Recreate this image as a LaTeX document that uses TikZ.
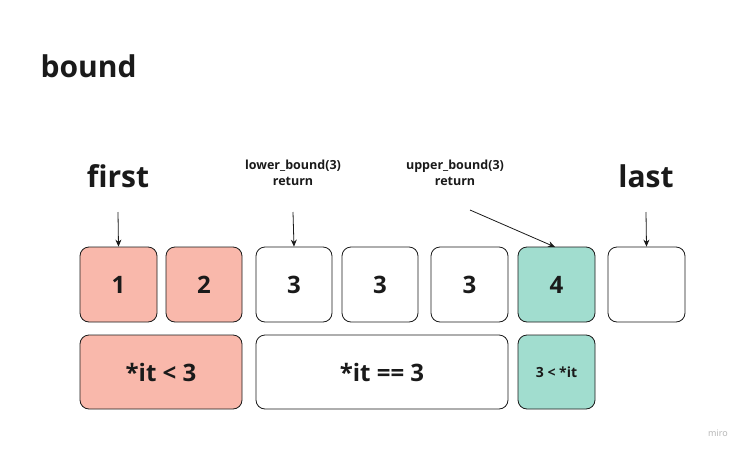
\documentclass[tikz,border=0pt]{standalone}
\usepackage{fontspec}
\setmainfont{Open Sans}
\usetikzlibrary{arrows.meta}
\definecolor{pinkc}{HTML}{F9B8AB}
\definecolor{tealc}{HTML}{A1DDCF}
\definecolor{ink}{HTML}{1A1A1A}
\begin{document}
\begin{tikzpicture}[x=1pt,y=-1pt,
  cell/.style={draw=ink,line width=0.8pt,rounded corners=9pt,minimum height=75pt,inner sep=0pt,font=\bfseries\fontsize{24}{28}\selectfont,text=ink},
  big/.style={font=\bfseries\fontsize{30}{34}\selectfont,text=ink},
  small/.style={font=\bfseries\fontsize{12.5}{16}\selectfont,text=ink,align=center},
  arr/.style={-{Stealth[length=7pt,width=6pt]},line width=0.8pt,draw=ink}]
\useasboundingbox (0,0) rectangle (750,453);
\fill[white] (0,0) rectangle (750,453);
\node[big,anchor=west] (title) at (37,66) {bound};
\node[cell,fill=pinkc,minimum width=77pt] (c1) at (118.5,284.5) {1};
\node[cell,fill=pinkc,minimum width=76pt] (c2) at (204,284.5) {2};
\node[cell,fill=white,minimum width=76pt] (c3) at (294,284.5) {3};
\node[cell,fill=white,minimum width=76pt] (c4) at (380,284.5) {3};
\node[cell,fill=white,minimum width=77pt] (c5) at (469.5,284.5) {3};
\node[cell,fill=tealc,minimum width=77pt] (c6) at (556.5,284.5) {4};
\node[cell,fill=white,minimum width=77pt] (c7) at (646.5,284.5) {};
\node[cell,fill=pinkc,minimum width=162pt,minimum height=74pt] (r1) at (161,372) {*it < 3};
\node[cell,fill=white,minimum width=252pt,minimum height=74pt] (r2) at (382,372) {*it == 3};
\node[cell,fill=tealc,minimum width=77pt,minimum height=74pt,font=\bfseries\fontsize{14}{16}\selectfont] (r3) at (556.5,372) {3 < *it};
\node[big] (first) at (118,176) {first};
\node[big] (last) at (646,176) {last};
\node[small] (lb) at (293,173) {lower\_bound(3)\\return};
\node[small] (ub) at (455,173) {upper\_bound(3)\\return};
\coordinate (fa) at (118,212);
\coordinate (la) at (293,212);
\coordinate (ta) at (646,212);
\coordinate (ua) at (470,210);
\draw[arr] (fa) -- (c1.north);
\draw[arr] (la) -- (c3.north);
\draw[arr] (ta) -- (c7.north);
\draw[arr] (ua) -- (555,247);
\node[text=gray!60,font=\fontsize{9}{10}\selectfont] (miro) at (718,433) {miro};
\end{tikzpicture}
\end{document}
